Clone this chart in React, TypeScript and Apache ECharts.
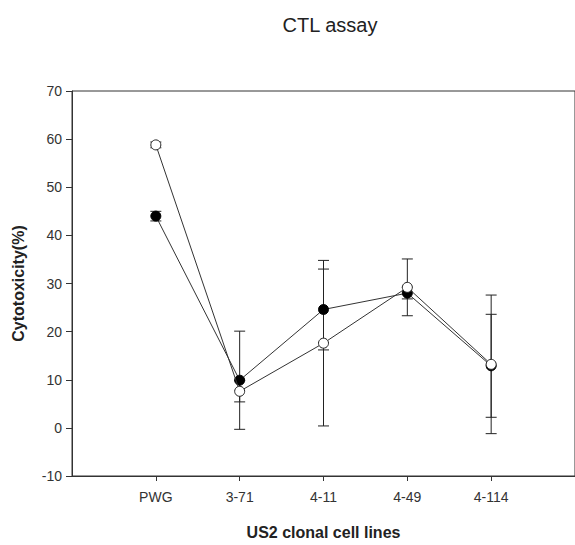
import React, { useEffect, useRef } from "react";
import * as echarts from "echarts";

const categories = ["PWG", "3-71", "4-11", "4-49", "4-114"];
const filledValues = [44.0, 9.9, 24.6, 28.0, 12.9];
const filledErrors = [1.0, 10.2, 8.4, 1.2, 10.7];
const openValues = [58.8, 7.6, 17.6, 29.2, 13.2];
const openErrors = [0.6, 2.2, 17.2, 5.9, 14.4];
const yTicks = { min: -10, max: 70, interval: 10 };

const FONT = "'Liberation Sans', Arial, sans-serif";

function errData(vals: number[], errs: number[]) {
  return vals.map((v, i) => [i + 1, v - errs[i], v + errs[i]]);
}

function renderErr(params: any, api: any) {
  const x = api.value(0);
  const lo = api.coord([x, api.value(1)]);
  const hi = api.coord([x, api.value(2)]);
  const w = 5.5;
  const style = { stroke: "#222", lineWidth: 1, fill: "none" };
  return {
    type: "group",
    children: [
      { type: "line", shape: { x1: lo[0], y1: lo[1], x2: hi[0], y2: hi[1] }, style },
      { type: "line", shape: { x1: lo[0] - w, y1: lo[1], x2: lo[0] + w, y2: lo[1] }, style },
      { type: "line", shape: { x1: hi[0] - w, y1: hi[1], x2: hi[0] + w, y2: hi[1] }, style },
    ],
  };
}

export default function App() {
  const ref = useRef<HTMLDivElement>(null);
  useEffect(() => {
    if (!ref.current) return;
    const chart = echarts.init(ref.current, undefined, { renderer: "svg" });
    const pos = [1, 2, 3, 4, 5];
    chart.setOption({
      animation: false,
      backgroundColor: "#fff",
      title: {
        text: "CTL assay",
        left: 325,
        top: 10,
        textAlign: "center",
        textStyle: { fontFamily: FONT, fontSize: 20, fontWeight: "normal", color: "#222" },
      },
      grid: {
        left: 72,
        top: 91,
        width: 504,
        height: 392,
        show: true,
        borderColor: "#333",
        borderWidth: 1,
        backgroundColor: "transparent",
      },
      xAxis: {
        type: "value",
        min: 0,
        max: 6,
        interval: 1,
        name: "US2 clonal cell lines",
        nameLocation: "middle",
        nameGap: 48,
        nameTextStyle: { fontFamily: FONT, fontSize: 16, fontWeight: "bold", color: "#222" },
        splitLine: { show: false },
        axisLine: { onZero: false, lineStyle: { color: "#333", width: 1 } },
        axisTick: { customValues: pos, length: 5, lineStyle: { color: "#333" } },
        axisLabel: {
          customValues: pos,
          margin: 14,
          fontFamily: FONT,
          fontSize: 14,
          color: "#333",
          formatter: (v: number) => categories[Math.round(v) - 1] ?? "",
        },
      },
      yAxis: {
        type: "value",
        min: yTicks.min,
        max: yTicks.max,
        interval: yTicks.interval,
        name: "Cytotoxicity(%)",
        nameLocation: "middle",
        nameGap: 46,
        nameTextStyle: { fontFamily: FONT, fontSize: 16, fontWeight: "bold", color: "#222" },
        splitLine: { show: false },
        axisLine: { show: true, onZero: false, lineStyle: { color: "#333", width: 1 } },
        axisTick: { show: true, length: 6, lineStyle: { color: "#333" } },
        axisLabel: { margin: 10, fontFamily: FONT, fontSize: 14, color: "#333" },
      },
      series: [
        {
          type: "custom",
          z: 1,
          renderItem: renderErr,
          data: errData(filledValues, filledErrors),
          silent: true,
        },
        {
          type: "custom",
          z: 1,
          renderItem: renderErr,
          data: errData(openValues, openErrors),
          silent: true,
        },
        {
          type: "line",
          z: 3,
          data: filledValues.map((v, i) => [i + 1, v]),
          symbol: "circle",
          symbolSize: 10,
          lineStyle: { color: "#333", width: 1 },
          itemStyle: { color: "#000", borderColor: "#000", borderWidth: 1 },
        },
        {
          type: "line",
          z: 4,
          data: openValues.map((v, i) => [i + 1, v]),
          symbol: "circle",
          symbolSize: 10,
          lineStyle: { color: "#333", width: 1 },
          itemStyle: { color: "#fff", borderColor: "#222", borderWidth: 1 },
        },
      ],
    });
    return () => chart.dispose();
  }, []);
  return (
    <div
      ref={ref}
      style={{ position: "absolute", left: 0, top: 0, width: 575, height: 545 }}
    />
  );
}
